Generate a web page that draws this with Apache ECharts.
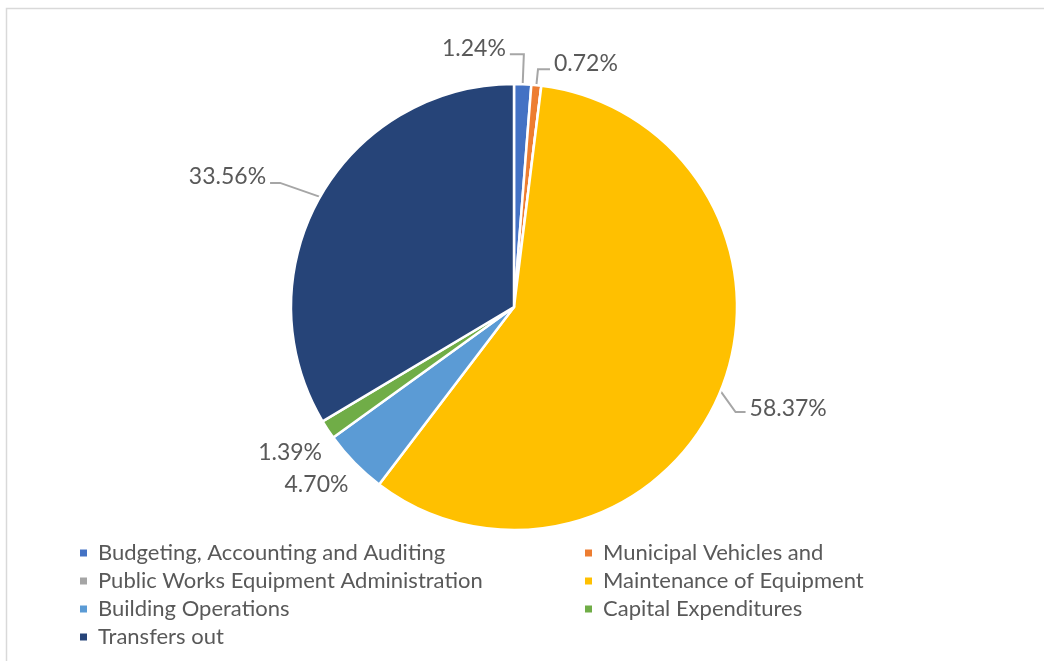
<!DOCTYPE html>
<html>
<head>
<meta charset="utf-8">
<script src="https://cdn.jsdelivr.net/npm/echarts@6/dist/echarts.min.js"></script>
<style>
  html, body { margin: 0; padding: 0; background: #fff; }
  #chart { width: 1044px; height: 661px; }
</style>
</head>
<body>
<div id="chart"></div>
<script>
// share of total, percent
const categories = [
  'Budgeting, Accounting and Auditing',
  'Municipal Vehicles and',
  'Public Works Equipment Administration',
  'Maintenance of Equipment',
  'Building Operations',
  'Capital Expenditures',
  'Transfers out'
]
const shares = [1.24, 0.72, 0, 58.37, 4.70, 1.39, 33.56]
const sliceColors = ['#4472C4', '#ED7D31', '#A5A5A5', '#FFC000', '#5B9BD5', '#70AD47', '#264478']

const leftLegend = [categories[0], categories[2], categories[4], categories[6]]
const rightLegend = [categories[1], categories[3], categories[5]]

const FONT = 'Lato'
const TEXT = '#595959'

// leader line lengths per slice, roughly what excel drew
const lineLen = [
  { show: true, length: 30, length2: 14 },
  { show: true, length: 16, length2: 12 },
  { show: false, length: 0, length2: 0 },
  { show: true, length: 26, length2: 10 },
  { show: false, length: 14, length2: 0 },
  { show: false, length: 14, length2: 0 },
  { show: true, length: 40, length2: 10 }
]

const pieData = categories.map((name, i) => ({
  name,
  value: shares[i],
  itemStyle: { color: sliceColors[i] },
  label: { show: shares[i] > 0 },
  labelLine: lineLen[i]
}))

function legendStyle(left, data) {
  return {
    orient: 'vertical',
    left,
    top: 539,
    padding: 0,
    data,
    icon: 'rect',
    itemWidth: 9,
    itemHeight: 9,
    itemGap: 0,
    selectedMode: false,
    textStyle: { color: TEXT, fontFamily: FONT, fontSize: 22, lineHeight: 28, padding: [0, 0, 0, 5] }
  }
}

const chart = echarts.init(document.getElementById('chart'))

chart.setOption({
  animation: false,
  graphic: [{
    type: 'rect',
    shape: { x: 6.5, y: 8.5, width: 1100, height: 700 },
    style: { fill: 'none', stroke: '#D9D9D9', lineWidth: 1.5 },
    silent: true
  }],
  legend: [legendStyle(78, leftLegend), legendStyle(583, rightLegend)],
  series: [{
    type: 'pie',
    center: [514, 307],
    radius: 223,
    startAngle: 90,
    clockwise: true,
    avoidLabelOverlap: false,
    stillShowZeroSum: true,
    itemStyle: { borderColor: '#fff', borderWidth: 2.5 },
    label: {
      position: 'outside',
      color: TEXT,
      fontFamily: FONT,
      fontSize: 23,
      distanceToLabelLine: 4,
      formatter: p => p.value.toFixed(2) + '%'
    },
    labelLine: {
      lineStyle: { color: '#A6A6A6', width: 2 }
    },
    labelLayout(params) {
      const pts = params.labelLinePoints
      const i = params.dataIndex
      if (!pts) return {}
      const p1 = pts[0]
      // the two thin slices low on the left have no leader line, label sits just below
      if (i === 4 || i === 5) {
        const end = pts[1]
        return {
          x: end[0] + (i === 4 ? 4 : 6),
          y: end[1] + (i === 4 ? 12 : 15),
          align: 'right',
          verticalAlign: 'middle'
        }
      }
      let p2 = pts[1]
      const len2 = Math.abs(pts[2][0] - pts[1][0])
      let side = pts[2][0] < pts[1][0] ? -1 : 1
      let lift = -6
      // excel put the 1.24% label on the left side of its leader
      if (i === 0) side = -1
      // the big slice's leader drops down more steeply
      if (i === 3) { p2 = [p1[0] + 15, p1[1] + 21]; lift = -3 }
      // transfers leader is flatter than radial
      if (i === 6) p2 = [p1[0] - 40, p1[1] - 14]
      const end = [p2[0] + side * len2, p2[1]]
      return {
        x: end[0] + side * 4,
        y: end[1] + lift,
        align: side < 0 ? 'right' : 'left',
        verticalAlign: 'middle',
        labelLinePoints: [p1, p2, end]
      }
    },
    data: pieData
  }]
})
</script>
</body>
</html>
